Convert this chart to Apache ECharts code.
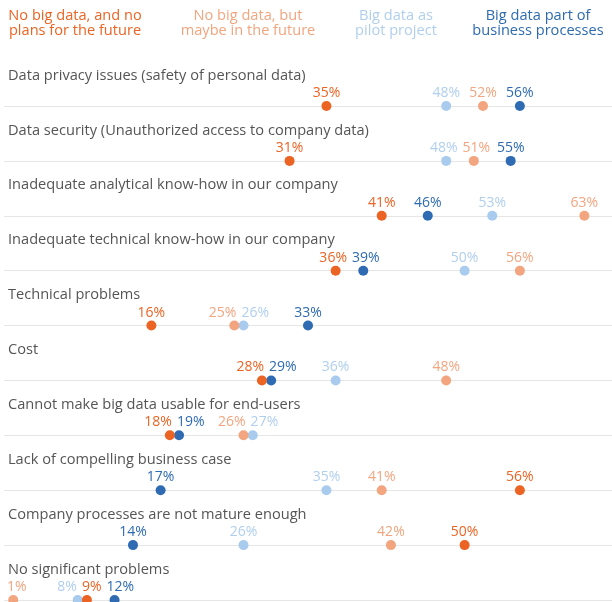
<!DOCTYPE html>
<html>
<head>
<meta charset="utf-8">
<script src="https://cdn.jsdelivr.net/npm/echarts@6/dist/echarts.min.js"></script>
<style>
html,body{margin:0;padding:0;background:#fff;}
#chart{width:612px;height:602px;}
</style>
</head>
<body>
<div id="chart"></div>
<script>
const categories = [
  "Data privacy issues (safety of personal data)",
  "Data security (Unauthorized access to company data)",
  "Inadequate analytical know-how in our company",
  "Inadequate technical know-how in our company",
  "Technical problems",
  "Cost",
  "Cannot make big data usable for end-users",
  "Lack of compelling business case",
  "Company processes are not mature enough",
  "No significant problems"
];
const seriesNames = [
  "No big data, and no\nplans for the future",
  "No big data, but\nmaybe in the future",
  "Big data as\npilot project",
  "Big data part of\nbusiness processes"
];
const noPlans    = [35, 31, 41, 36, 16, 28, 18, 56, 50, 9];
const maybe      = [52, 51, 63, 56, 25, 48, 26, 41, 42, 1];
const pilot      = [48, 48, 53, 50, 26, 36, 27, 35, 26, 8];
const businessProc = [56, 55, 46, 39, 33, 29, 19, 17, 14, 12];

const dotColors = ["#EB6424", "#F2A57F", "#A9CBEE", "#2E6BB2"];
const textColors = ["#EB6424", "#F2A57F", "#B0CFEE", "#2E6BB2"];
const FONT = '"Open Sans", "Noto Sans", sans-serif';
const VAL_FONT_SIZE = 14;
const TEXT_FONT_SIZE = 14.6;

const seriesValues = [noPlans, maybe, pilot, businessProc];
// draw order: dark blue, light blue, light orange, dark orange (on top)
const drawOrder = [3, 2, 1, 0];

const chart = echarts.init(document.getElementById('chart'));

function buildSeries(offsets) {
  return drawOrder.map(i => ({
    type: 'scatter',
    name: seriesNames[i],
    symbolSize: 10,
    itemStyle: { color: dotColors[i], opacity: 1 },
    data: seriesValues[i].map((v, r) => ({
      value: [v, r],
      label: { offset: [offsets ? offsets[i][r] : 0, 0] }
    })),
    label: {
      show: true,
      position: 'top',
      distance: 1,
      formatter: p => p.value[0] + '%',
      color: textColors[i],
      fontFamily: FONT,
      fontSize: VAL_FONT_SIZE
    },
    emphasis: { disabled: true },
    clip: false
  }));
}

const headerX = [75, 248, 396, 538];
const graphic = seriesNames.map((n, i) => ({
  type: 'text',
  x: headerX[i],
  y: 9,
  style: {
    text: n,
    fill: textColors[i],
    font: TEXT_FONT_SIZE + 'px ' + FONT,
    textAlign: 'center',
    textVerticalAlign: 'top',
    lineHeight: 14.5
  }
}));

chart.setOption({
  animation: false,
  backgroundColor: '#fff',
  grid: { left: 4, right: 0, top: 106, bottom: 2, containLabel: false },
  xAxis: { type: 'value', min: 0, max: 66, show: false },
  yAxis: {
    type: 'category',
    inverse: true,
    boundaryGap: false,
    data: categories,
    axisLine: { show: false },
    axisTick: { show: false },
    axisLabel: {
      inside: true,
      interval: 0,
      margin: 4,
      align: 'left',
      verticalAlign: 'bottom',
      lineHeight: 61,
      color: '#555555',
      fontFamily: FONT,
      fontSize: TEXT_FONT_SIZE
    },
    splitLine: { show: true, interval: 0, lineStyle: { color: '#e6e6e6', width: 1 } }
  },
  graphic: graphic,
  series: buildSeries(null)
});

// spread overlapping value labels within each row
const ctx = document.createElement('canvas').getContext('2d');
ctx.font = VAL_FONT_SIZE + 'px ' + FONT;
const GAP = 5, LEFT_EDGE = 7;
const offsets = seriesValues.map(() => categories.map(() => 0));
categories.forEach((c, r) => {
  const items = seriesValues.map((vals, i) => {
    const x = chart.convertToPixel({ gridIndex: 0 }, [vals[r], r])[0];
    return { i, x, c: x, w: ctx.measureText(vals[r] + '%').width };
  }).sort((a, b) => a.x - b.x);
  for (let it = 0; it < 200; it++) {
    for (let k = 0; k < items.length - 1; k++) {
      const a = items[k], b = items[k + 1];
      const need = (a.w + b.w) / 2 + GAP;
      const d = b.c - a.c;
      if (d < need) { const p = (need - d) / 2; a.c -= p; b.c += p; }
    }
    items.forEach(o => { if (o.c - o.w / 2 < LEFT_EDGE) o.c = LEFT_EDGE + o.w / 2; });
  }
  items.forEach(o => { offsets[o.i][r] = o.c - o.x; });
});
chart.setOption({ series: buildSeries(offsets) });
</script>
</body>
</html>
